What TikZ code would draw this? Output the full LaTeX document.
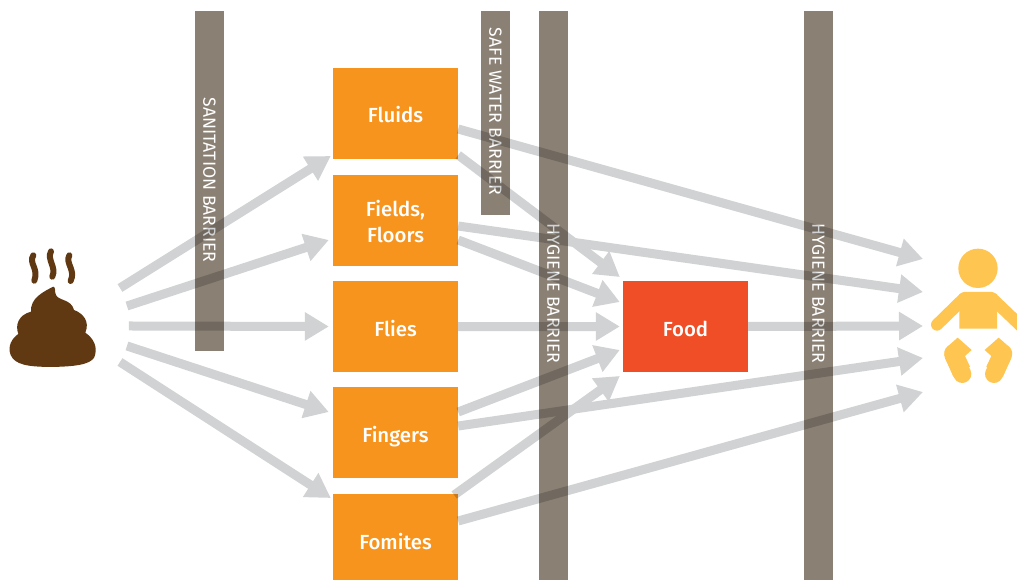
\documentclass[tikz,border=0pt]{standalone}
\usepackage{fontspec}
\setmainfont{Fira Sans Medium}
\newfontfamily\barfont{Fira Sans}
\usetikzlibrary{arrows.meta,calc}
\definecolor{barcol}{HTML}{8B8074}
\definecolor{boxcol}{HTML}{F7941D}
\definecolor{foodcol}{HTML}{F04E26}
\definecolor{arrcol}{HTML}{D0D2D3}
\definecolor{poocol}{HTML}{603913}
\definecolor{babycol}{HTML}{FFC551}
\newcommand{\lbl}[1]{\raisebox{0pt}[22.5pt][3.5pt]{#1}}
\tikzset{
  x=1pt,y=-1pt,
  barlabel/.style={text=white,rotate=-90,font=\barfont\fontsize{17.6}{19}\selectfont,inner sep=0},
  source/.style={fill=boxcol,text=white,inner sep=0,minimum width=125pt,minimum height=91pt,align=center,font=\fontsize{20.4}{26}\selectfont},
  flow/.style={draw=arrcol,line width=9pt,-{Triangle[width=27pt,length=24pt]}},
  pooshape/.style={fill=poocol,draw=none},
  steam/.style={draw=poocol,line width=6pt,line cap=round},
  babyshape/.style={fill=babycol,draw=none},
}
\begin{document}
\begin{tikzpicture}
\path[use as bounding box,fill=white] (0,0) rectangle (1017,580);
\clip (0,0) rectangle (1017,580);
% barriers
\fill[barcol] (195,11) rectangle (224,351);
\fill[barcol] (481,11) rectangle (510,215);
\fill[barcol] (539,11) rectangle (568,580);
\fill[barcol] (804,11) rectangle (833,580);
\node[barlabel] (l1) at (209.5,180) {SANITATION BARRIER};
\node[barlabel] (l2) at (495.5,111.5) {SAFE WATER BARRIER};
\node[barlabel] (l3) at (553.5,293.5) {HYGIENE BARRIER};
\node[barlabel] (l4) at (818.5,293.5) {HYGIENE BARRIER};
% boxes
\node[source] (fluids) at (395.5,113.5) {\lbl{Fluids}};
\node[source] (fields) at (395.5,220.5) {\lbl{Fields,}\\\lbl{Floors}};
\node[source] (flies) at (395.5,326.5) {\lbl{Flies}};
\node[source] (fingers) at (395.5,432.5) {\lbl{Fingers}};
\node[source] (fomites) at (395.5,539.5) {\lbl{Fomites}};
\node[source,fill=foodcol] (food) at (685.5,326.5) {\lbl{Food}};
% poop
\begin{scope}[shift={(0,230)},x=0.3333pt,y=-0.3333pt]
\fill[pooshape] (160,170) .. controls (168,172) and (163,185) .. (168,195)
  .. controls (175,212) and (215,208) .. (222,240)
  .. controls (250,250) and (270,275) .. (256,308)
  .. controls (280,325) and (295,350) .. (283,382)
  .. controls (270,405) and (220,410) .. (150,411)
  .. controls (85,410) and (45,405) .. (32,375)
  .. controls (22,350) and (35,325) .. (55,312)
  .. controls (45,285) and (55,255) .. (93,245)
  .. controls (90,205) and (130,185) .. (160,170) -- cycle;
\draw[steam] (100,76) .. controls (85,100) and (117,115) .. (103,152);
\draw[steam] (153,64) .. controls (140,90) and (170,110) .. (157,140);
\draw[steam] (208,76) .. controls (195,100) and (228,120) .. (212,153);
\coordinate (p1) at (360,174);
\coordinate (p2) at (381,228);
\coordinate (p3) at (387,288);
\coordinate (p4) at (381,348);
\coordinate (p5) at (360,396);
\end{scope}
% baby
\begin{scope}[shift={(890,230)},x=0.3333pt,y=-0.3333pt]
\fill[babyshape] (264,115) circle[radius=59];
\fill[babyshape] (208,296) -- (208,193) -- (222,186) -- (306,186) -- (321,193) -- (321,296) -- cycle;
\draw[babycol,line width=12pt,line cap=round] (141,284) -- (222,205);
\draw[babycol,line width=12pt,line cap=round] (306,205) -- (395,290);
\fill[babyshape] (203,323) -- (245,360) -- (225,378) -- (240,410) -- (190,440) -- (163,375) .. controls (160,360) and (170,350) .. (178,345) -- cycle;
\draw[babycol,line width=18pt,line cap=round] (190,375) -- (217,432);
\fill[babyshape] (326,323) -- (284,360) -- (304,378) -- (289,410) -- (339,440) -- (366,375) .. controls (369,360) and (359,350) .. (351,345) -- cycle;
\draw[babycol,line width=18pt,line cap=round] (339,375) -- (312,432);
\end{scope}
\coordinate (b1) at (923,259);
\coordinate (b2) at (923,292);
\coordinate (b3) at (923,326);
\coordinate (b4) at (923,358);
\coordinate (b5) at (923,392);
% connectors
\begin{scope}[transparency group,blend mode=multiply]
\draw[flow] (p1) -- ($(fluids.west)+(-2,42.5)$);
\draw[flow] (p2) -- ($(fields.west)+(-4,19.5)$);
\draw[flow] (p3) -- ($(flies.west)+(-4,0)$);
\draw[flow] (p4) -- ($(fingers.west)+(-4,-20.5)$);
\draw[flow] (p5) -- ($(fomites.west)+(-2,-41.5)$);
\draw[flow] ($(fluids.east)+(0,15.5)$) -- (b1);
\draw[flow] ($(fluids.east)+(0,41.5)$) -- ($(food.west)+(-3,-49.5)$);
\draw[flow] ($(fields.east)+(0,5.5)$) -- (b2);
\draw[flow] ($(fields.east)+(0,19.5)$) -- ($(food.west)+(-3,-24.5)$);
\draw[flow] (flies.east) -- ($(food.west)+(-3,0)$);
\draw[flow] ($(fingers.east)+(0,-20.5)$) -- ($(food.west)+(-3,23.5)$);
\draw[flow] ($(fingers.east)+(0,-6.5)$) -- (b4);
\draw[flow] ($(fomites.east)+(-4,-44.5)$) -- ($(food.west)+(-3,49.5)$);
\draw[flow] ($(fomites.east)+(0,-18.5)$) -- (b5);
\draw[flow] (food.east) -- (b3);
\end{scope}
\end{tikzpicture}
\end{document}
